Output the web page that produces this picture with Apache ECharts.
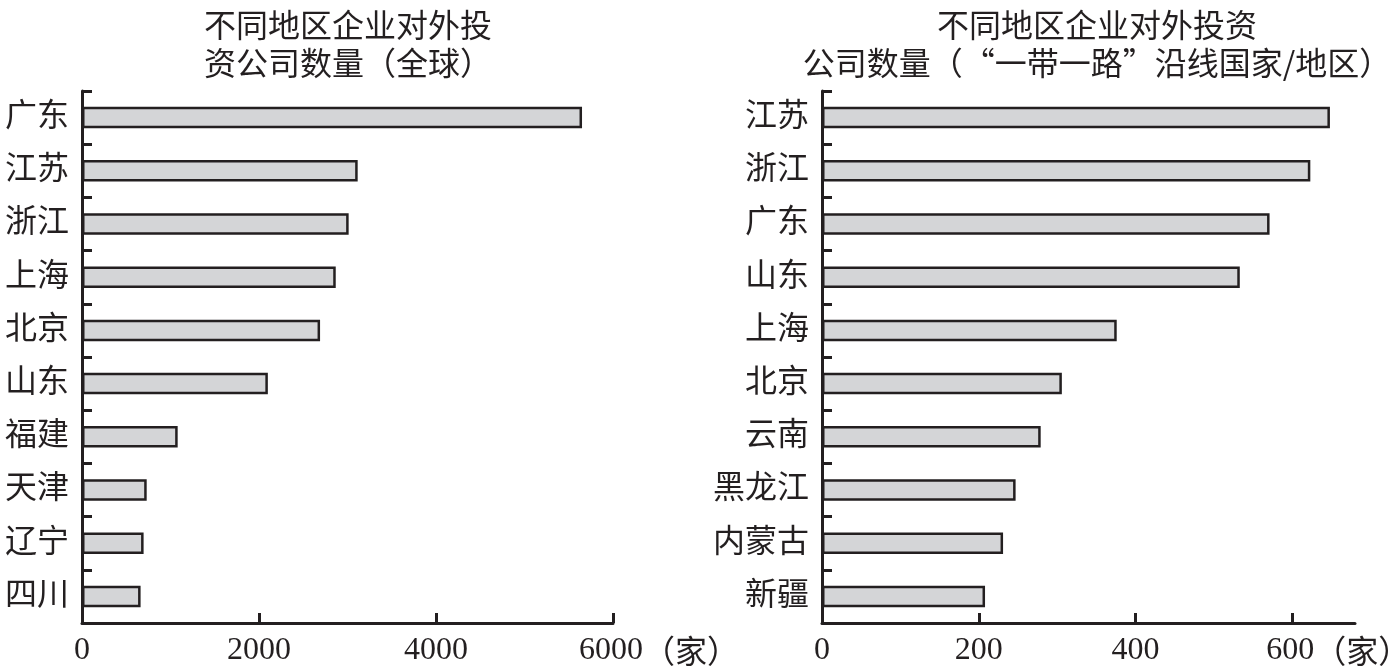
<!DOCTYPE html>
<html>
<head>
<meta charset="utf-8">
<script src="https://cdn.jsdelivr.net/npm/echarts@6/dist/echarts.min.js"></script>
<style>
html,body{margin:0;padding:0;background:#fff;}
#chart{width:1398px;height:671px;}
</style>
</head>
<body>
<div id="chart"></div>
<script>
// Left chart: all destinations
const leftTitle = '不同地区企业对外投\n资公司数量（全球）';
const leftCategories = ['广东','江苏','浙江','上海','北京','山东','福建','天津','辽宁','四川'];
const leftValues = [5650, 3115, 3013, 2867, 2690, 2100, 1081, 731, 696, 662];
const leftTicks = [0, 2000, 4000, 6000];

// Right chart: Belt and Road countries/regions
const rightTitle = '不同地区企业对外投资\n公司数量（“一带一路”沿线国家/地区）';
const rightCategories = ['江苏','浙江','广东','山东','上海','北京','云南','黑龙江','内蒙古','新疆'];
const rightValues = [648, 623, 571, 533, 376, 306, 279, 247, 231, 208];
const rightTicks = [0, 200, 400, 600];

const unitName = '（家）';

const ink = '#231f20';
const barFill = '#d4d5d7';
const fontFam = '"Liberation Serif", "Noto Sans CJK SC", serif';
const cjkFam = '"Noto Sans CJK SC", sans-serif';

function xAxisOpt(gridIndex, max, interval, ticks) {
  const last = ticks[ticks.length - 1];
  return {
    type: 'value', gridIndex, min: 0, max, interval,
    axisLine: { show: true, lineStyle: { color: ink, width: 3 } },
    axisTick: { show: true, inside: true, length: 10, lineStyle: { color: ink, width: 3 }, customValues: ticks },
    axisLabel: {
      color: ink, fontSize: 32, fontFamily: fontFam, margin: 12, customValues: ticks,
      formatter: function (v) {
        return v === last ? '{p|}' + String(v) + '{u|' + unitName + '}' : String(v);
      },
      rich: {
        p: { width: 92, fontSize: 32 },
        u: { fontSize: 32, fontFamily: cjkFam, color: ink }
      }
    },
    splitLine: { show: false }
  };
}
function yAxisOpt(gridIndex, cats) {
  return {
    type: 'category', gridIndex, data: cats, inverse: true,
    axisLine: { show: true, lineStyle: { color: ink, width: 3 } },
    axisTick: { show: true, inside: true, length: 10, lineStyle: { color: ink, width: 3 } },
    axisLabel: { color: ink, fontSize: 32, fontFamily: fontFam, margin: 13 },
    splitLine: { show: false }
  };
}
const barStyle = { color: barFill, borderColor: ink, borderWidth: 2.5 };

const chart = echarts.init(document.getElementById('chart'));
chart.setOption({
  backgroundColor: '#fff',
  animation: false,
  title: [
    { text: leftTitle, left: 343, top: 1, textAlign: 'center',
      textStyle: { color: ink, fontSize: 32, fontWeight: 'normal', fontFamily: cjkFam, lineHeight: 38 } },
    { text: rightTitle, left: 1092, top: 1, textAlign: 'center',
      textStyle: { color: ink, fontSize: 32, fontWeight: 'normal', fontFamily: cjkFam, lineHeight: 38 } }
  ],
  grid: [
    { left: 82, right: 785, top: 91, bottom: 48, containLabel: false, outerBoundsMode: 'none' },
    { left: 822, right: 43, top: 91, bottom: 48, containLabel: false, outerBoundsMode: 'none' }
  ],
  xAxis: [
    xAxisOpt(0, 6000, 2000, leftTicks),
    xAxisOpt(1, 680, 200, rightTicks)
  ],
  yAxis: [
    yAxisOpt(0, leftCategories),
    yAxisOpt(1, rightCategories)
  ],
  series: [
    { type: 'bar', xAxisIndex: 0, yAxisIndex: 0, data: leftValues, barWidth: 21.5, itemStyle: barStyle },
    { type: 'bar', xAxisIndex: 1, yAxisIndex: 1, data: rightValues, barWidth: 21.5, itemStyle: barStyle }
  ]
});
</script>
</body>
</html>
